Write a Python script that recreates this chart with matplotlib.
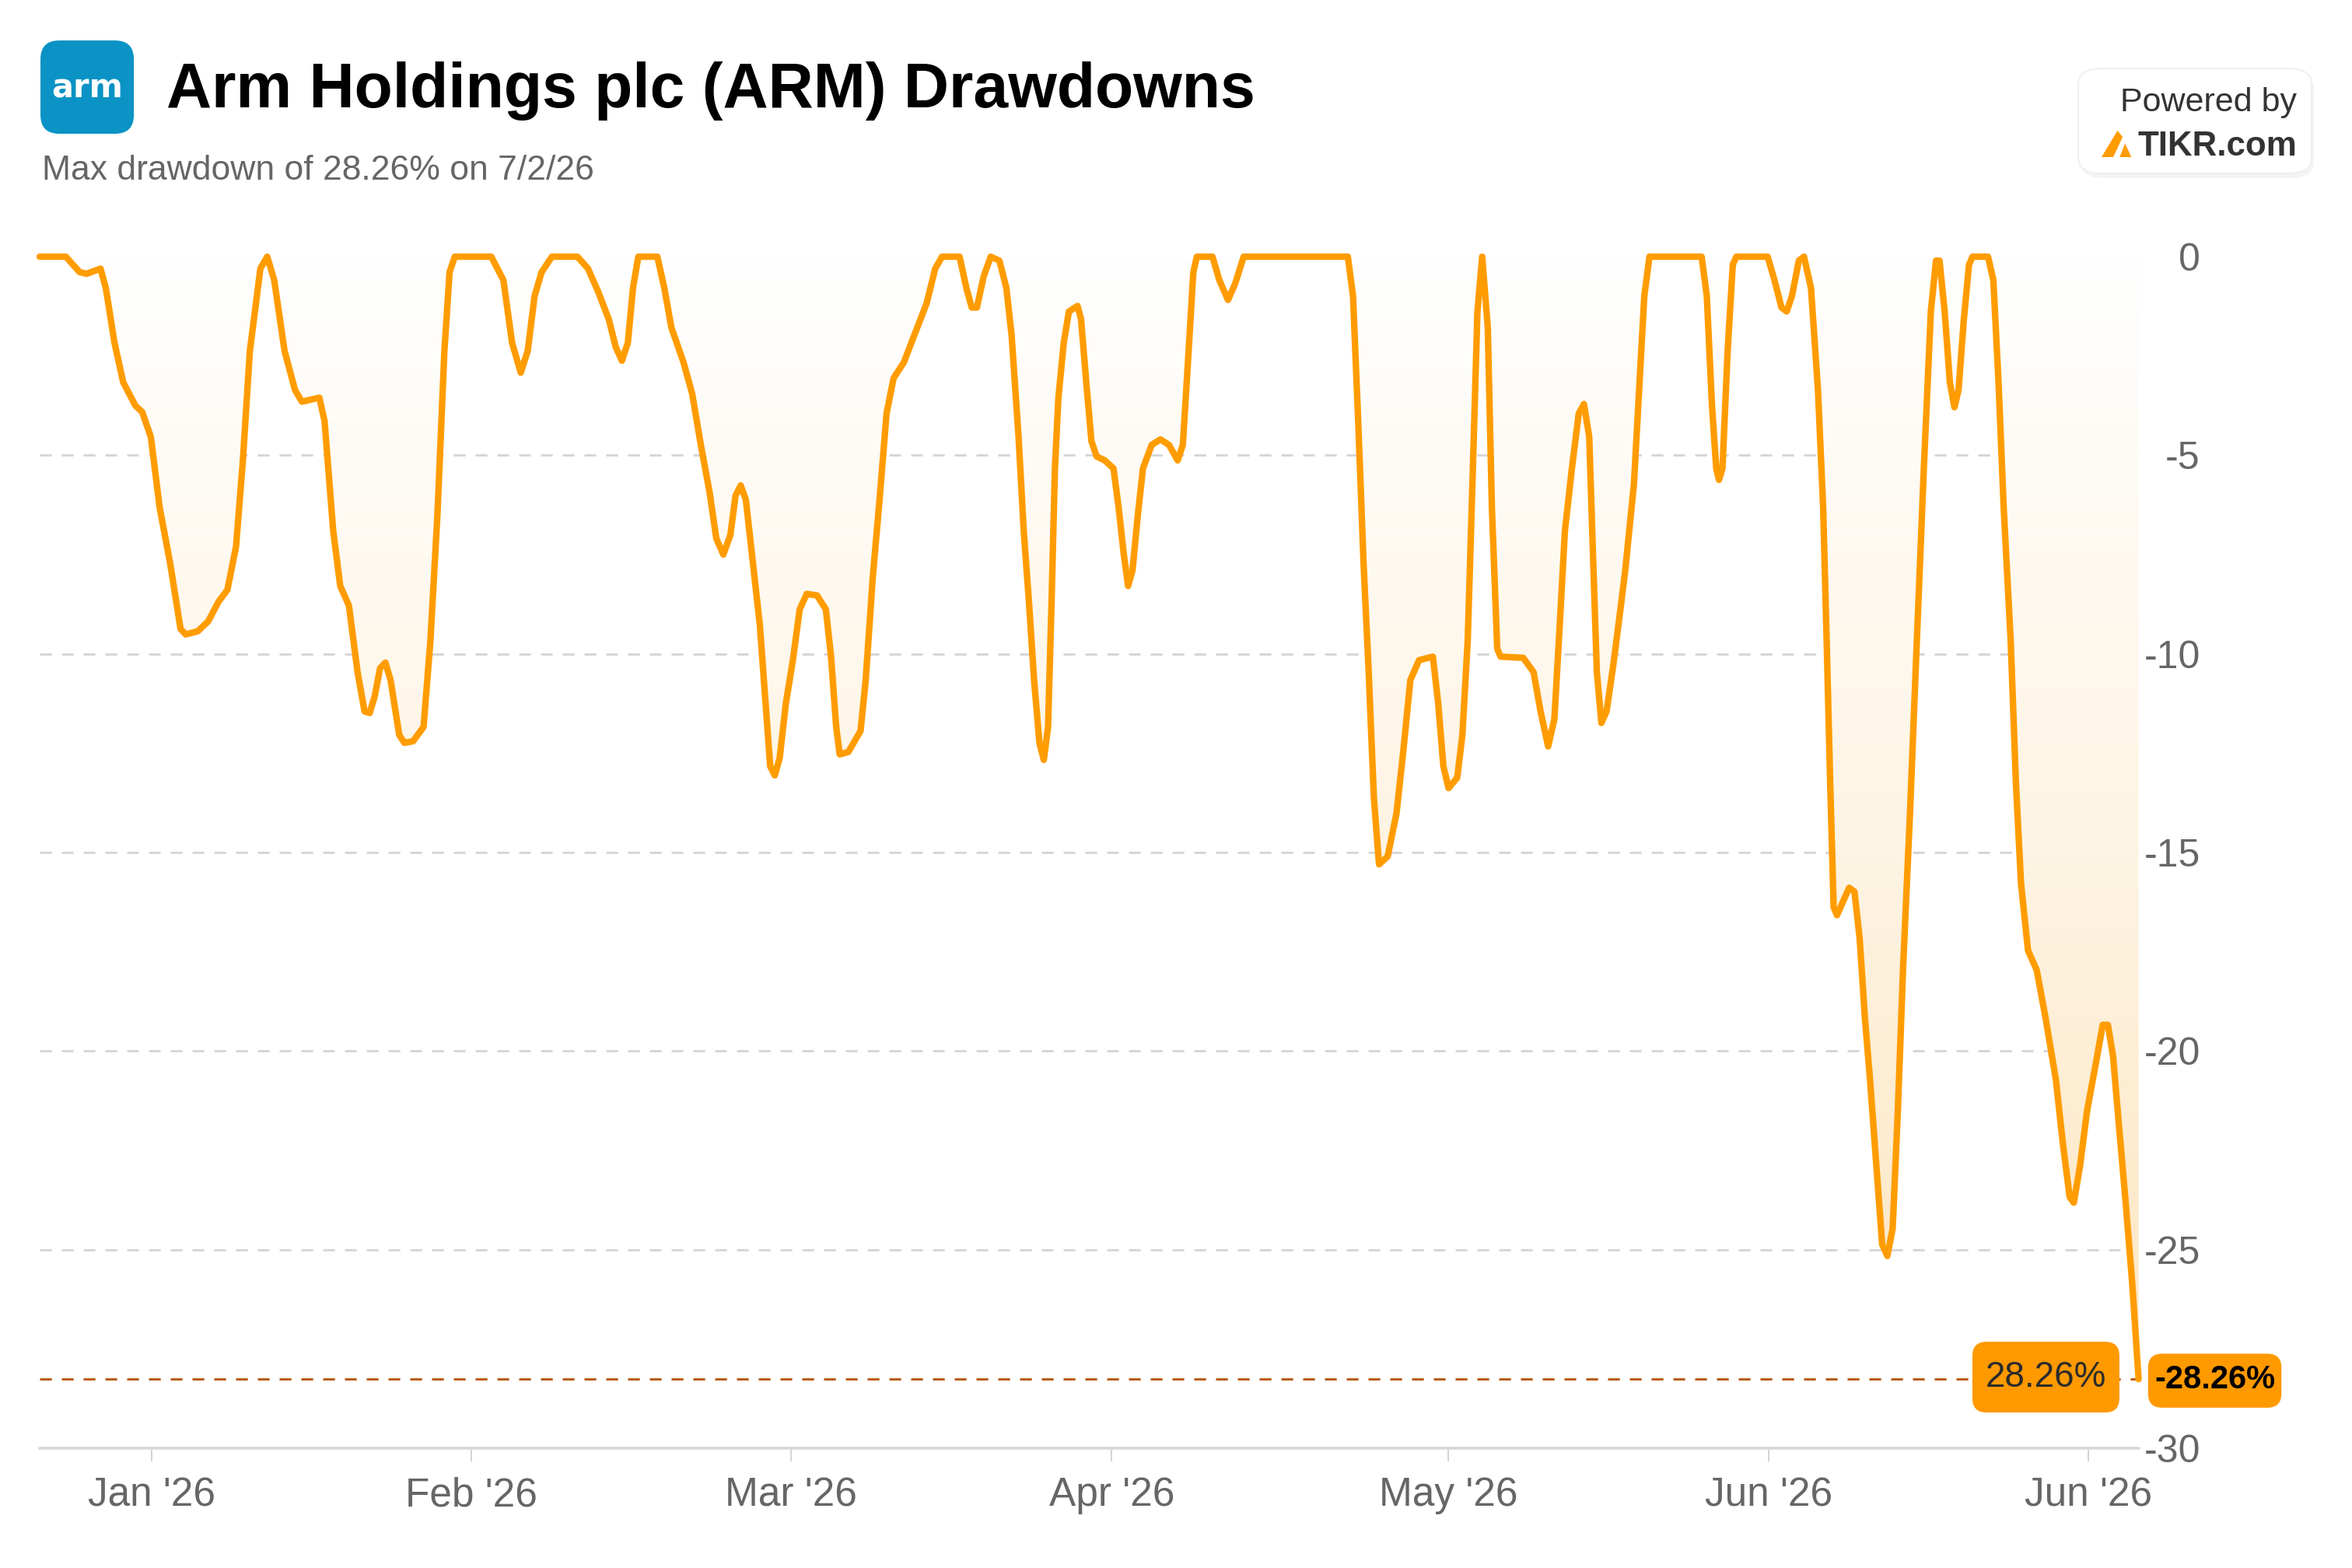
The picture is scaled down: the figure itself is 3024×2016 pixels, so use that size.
import matplotlib
matplotlib.use("Agg")
import matplotlib.pyplot as plt
import numpy as np
from matplotlib.colors import LinearSegmentedColormap
from matplotlib.patches import FancyBboxPatch, Polygon
import matplotlib.transforms as mtransforms

plt.rcParams['font.family'] = ['Liberation Sans', 'DejaVu Sans']

# trading-day position (0 = first day shown) and drawdown in %
days = [
    0.0, 1.72, 2.63, 3.09, 4.00, 4.35, 4.92, 5.49, 6.29, 6.74, 7.31, 7.89, 8.57, 9.26, 9.60,
    10.40, 11.08, 11.77, 12.34, 12.91, 13.36, 13.82, 14.51, 14.96, 15.42, 16.10, 16.79, 17.24,
    18.39, 18.73, 19.30, 19.76, 20.33, 20.90, 21.36, 21.70, 22.04, 22.38, 22.73, 23.07, 23.64,
    23.98, 24.55, 25.24, 25.69, 26.15, 26.61, 26.95, 27.29, 29.69, 30.49, 31.06, 31.63, 32.09,
    32.54, 33.00, 33.68, 35.36, 36.05, 36.73, 37.42, 37.87, 38.28, 38.67, 39.01, 39.36, 40.61,
    41.07, 41.53, 42.33, 42.90, 43.47, 44.04, 44.49, 44.95, 45.41, 45.75, 46.09, 46.43, 46.89,
    47.35, 47.69, 48.03, 48.33, 48.65, 49.06, 49.52, 49.97, 50.43, 51.11, 51.69, 52.03, 52.37,
    52.60, 53.17, 53.97, 54.31, 54.77, 55.22, 55.68, 56.14, 56.82, 57.51, 58.31, 58.88, 59.33,
    60.48, 60.93, 61.28, 61.62, 62.07, 62.53, 63.10, 63.56, 63.90, 64.36, 64.70, 65.04, 65.38,
    65.73, 66.02, 66.30, 66.53, 66.75, 66.98, 67.33, 67.67, 68.24, 68.47, 68.81, 69.15, 69.49,
    70.03, 70.60, 70.94, 71.28, 71.56, 71.85, 72.20, 72.54, 73.11, 73.68, 74.25, 74.82, 75.16,
    75.51, 75.85, 76.08, 77.11, 77.56, 78.13, 78.59, 79.16, 86.01, 86.35, 86.69, 87.04, 87.38,
    87.72, 88.06, 88.63, 89.21, 89.66, 90.12, 90.69, 91.60, 91.95, 92.29, 92.63, 93.20, 93.54,
    93.89, 94.23, 94.53, 94.84, 95.21, 95.48, 95.83, 96.05, 97.54, 98.22, 98.68, 99.18, 99.59,
    99.94, 100.28, 100.74, 101.19, 101.53, 101.88, 102.11, 102.38, 102.68, 103.02, 103.47,
    103.93, 104.25, 104.82, 105.16, 105.50, 105.84, 109.27, 109.61, 109.95, 110.23, 110.41,
    110.64, 110.98, 111.32, 111.55, 113.61, 114.06, 114.52, 114.86, 115.21, 115.66, 116.00,
    116.46, 116.92, 117.26, 117.49, 117.72, 117.95, 118.17, 118.63, 118.97, 119.32, 119.66,
    120.00, 120.34, 120.80, 121.14, 121.48, 121.83, 122.17, 122.51, 122.97, 123.42, 123.88,
    124.34, 124.68, 124.91, 125.25, 125.59, 125.89, 126.16, 126.51, 126.85, 127.08, 128.10,
    128.45, 128.79, 129.13, 129.59, 129.93, 130.27, 130.73, 131.30, 131.87, 132.56, 133.01,
    133.47, 133.74, 134.15, 134.61, 135.18, 135.64, 135.98, 136.32, 136.67, 137.12, 137.58,
    138.00,
]
drawdown = [
    0, 0, -0.39, -0.43, -0.30, -0.79, -2.17, -3.16, -3.75, -3.91, -4.54, -6.32, -7.70, -9.37, -9.51,
    -9.43, -9.18, -8.68, -8.39, -7.30, -5.13, -2.37, -0.30, 0, -0.59, -2.37, -3.36, -3.65,
    -3.55, -4.14, -6.91, -8.29, -8.78, -10.46, -11.45, -11.49, -11.05, -10.36, -10.22, -10.66, -12.04,
    -12.24, -12.20, -11.84, -9.67, -6.51, -2.37, -0.39, 0, 0, -0.59, -2.17, -2.92, -2.37,
    -0.99, -0.39, 0, 0, -0.30, -0.89, -1.58, -2.27, -2.62, -2.17, -0.79, 0, 0,
    -0.79, -1.78, -2.66, -3.45, -4.74, -5.92, -7.10, -7.50, -7.01, -6.02, -5.76, -6.12, -7.70,
    -9.28, -11.05, -12.83, -13.06, -12.63, -11.25, -10.16, -8.88, -8.49, -8.53, -8.88, -10.07, -11.84,
    -12.53, -12.47, -11.94, -10.66, -8.09, -6.12, -3.95, -3.06, -2.66, -1.97, -1.18, -0.30, 0,
    0, -0.79, -1.28, -1.28, -0.49, 0, -0.10, -0.79, -1.97, -4.54, -6.91, -8.68, -10.66,
    -12.24, -12.67, -11.84, -8.68, -5.33, -3.55, -2.17, -1.38, -1.24, -1.58, -3.16, -4.64, -5.03,
    -5.13, -5.33, -6.32, -7.50, -8.29, -7.90, -6.51, -5.33, -4.74, -4.60, -4.74, -5.13, -4.74,
    -2.57, -0.39, 0, 0, -0.59, -1.09, -0.69, 0, 0, -0.99, -4.14, -7.70, -10.46,
    -13.62, -15.30, -15.10, -14.01, -12.43, -10.66, -10.16, -10.07, -11.25, -12.83, -13.38, -13.12, -12.04,
    -9.67, -5.33, -1.38, 0, -1.78, -6.32, -9.87, -10.07, -10.10, -10.46, -11.45, -12.33, -11.64,
    -9.28, -6.91, -5.33, -3.95, -3.71, -4.54, -7.30, -10.46, -11.74, -11.45, -10.26,
    -8.88, -7.89, -5.72, -3.36, -0.99, 0, 0, -0.99, -3.75, -5.33, -5.62,
    -5.33, -2.37, -0.20, 0, 0, -0.59, -1.28, -1.38, -0.99, -0.10, 0,
    -0.79, -3.36, -6.32, -9.67, -13.22, -16.38, -16.58, -16.18, -15.89, -15.99, -17.17,
    -19.14, -20.72, -23.09, -24.87, -25.16, -24.47, -21.51, -17.96, -14.01, -9.67, -5.33,
    -1.38, -0.10, -0.10, -1.38, -3.16, -3.79, -3.36, -1.58, -0.20, 0, 0,
    -0.59, -3.16, -6.32, -9.67, -13.22, -15.79, -17.47, -17.96, -19.14, -20.72, -22.30,
    -23.68, -23.82, -22.89, -21.51, -20.33, -19.34, -19.34, -20.13, -21.71, -23.68, -25.85,
    -28.26,
]

tick_days = [7.34, 28.39, 49.41, 70.49, 92.61, 113.66, 134.68]
tick_labels = ["Jan '26", "Feb '26", "Mar '26", "Apr '26", "May '26", "Jun '26", "Jun '26"]
y_ticks = [0, -5, -10, -15, -20, -25, -30]
max_dd = -28.26

ORANGE = '#FF9C00'
GREY_TXT = '#666666'

fig = plt.figure(figsize=(15.12, 10.08), dpi=200)
ax = fig.add_axes([0.01687, 0.0764, 0.8924, 0.7599])

x = np.array(days)
y = np.array(drawdown)

ax.set_xlim(0, 138)
ax.set_ylim(-30, 0)

# gradient fill between curve and zero
fill = ax.fill_between(x, y, 0, color='none', linewidth=0)
cmap = LinearSegmentedColormap.from_list('dd', ['#FFFFFF', '#FEF4E3', '#FDE4BC'])
grad = np.linspace(0, 1, 256).reshape(-1, 1)
im = ax.imshow(grad, extent=[0, 138, -30, 0], aspect='auto', cmap=cmap, origin='upper', zorder=1)
im.set_clip_path(fill.get_paths()[0], transform=ax.transData)

# grid
for t in y_ticks[:-1]:
    ax.axhline(t, color='#D6D6D6', lw=1.05, dashes=(5.2, 4.4), zorder=0.5)

ax.axhline(max_dd, color='#B85A10', lw=1.05, dashes=(5.2, 4.4), zorder=2)

ax.plot(x, y, color=ORANGE, lw=3.0, zorder=3, clip_on=False,
        solid_joinstyle='round', solid_capstyle='round')

for s in ['top', 'left', 'right']:
    ax.spines[s].set_visible(False)
ax.spines['bottom'].set_color('#D8D8D8')
ax.spines['bottom'].set_linewidth(1.3)

ax.set_xticks(tick_days)
ax.set_xticklabels(tick_labels)
ax.tick_params(axis='x', length=6, width=0.6, color='#CCCCCC', pad=7,
               labelsize=18.5, labelcolor=GREY_TXT)

ax.yaxis.tick_right()
ax.set_yticks(y_ticks)
ax.set_yticklabels([str(t) for t in y_ticks])
ax.tick_params(axis='y', length=0, pad=28.5, labelsize=18, labelcolor=GREY_TXT)
for lab in ax.get_yticklabels():
    lab.set_horizontalalignment('right')

# value labels: x in figure fraction, y in data units
trans = mtransforms.blended_transform_factory(fig.transFigure, ax.transData)
aspect = (18 / 51.07) / (18 / 3024)
left_box = FancyBboxPatch((0.8386, max_dd - 0.84), 0.0625, 1.78,
                          boxstyle='round,pad=0,rounding_size=0.006', mutation_aspect=aspect,
                          transform=trans, fc='#FF9900', ec='none', zorder=5, clip_on=False)
right_box = FancyBboxPatch((0.9133, max_dd - 0.72), 0.0567, 1.36,
                           boxstyle='round,pad=0,rounding_size=0.006', mutation_aspect=aspect,
                           transform=trans, fc='#FF9900', ec='none', zorder=5, clip_on=False)
ax.add_patch(left_box)
ax.add_patch(right_box)
ax.text(0.8698, max_dd + 0.05, f"{abs(max_dd):.2f}%", transform=trans, ha='center', va='center',
        fontsize=16.5, color='#2B2B2B', zorder=6, clip_on=False)
ax.text(0.9417, max_dd - 0.02, f"{max_dd:.2f}%", transform=trans, ha='center', va='center',
        fontsize=15, fontweight='bold', color='black', zorder=6, clip_on=False)

# header
logo = FancyBboxPatch((0.0172 + 0.004, 0.9147 + 0.006), 0.0397 - 0.008, 0.0595 - 0.012,
                      boxstyle='round,pad=0.004,rounding_size=0.008', transform=fig.transFigure,
                      fc='#0A93C4', ec='none', mutation_aspect=1.5)
fig.patches.append(logo)
fig.text(0.0371, 0.9435, 'arm', ha='center', va='center', color='white', fontsize=15,
         fontweight='bold', family=['DejaVu Sans'])

fig.text(0.0708, 0.9315, 'Arm Holdings plc (ARM) Drawdowns', fontsize=29,
         fontweight='bold', color='black', va='baseline')
fig.text(0.0178, 0.8854, 'Max drawdown of 28.26% on 7/2/26', fontsize=16,
         color=GREY_TXT, va='baseline')

# powered by box
shadow = FancyBboxPatch((0.8836 + 0.001, 0.8894 - 0.003), 0.0992, 0.0669,
                        boxstyle='round,pad=0,rounding_size=0.01', transform=fig.transFigure,
                        fc='#EEEEEE', ec='none', alpha=0.6)
box = FancyBboxPatch((0.8836, 0.8894), 0.0992, 0.0669,
                     boxstyle='round,pad=0,rounding_size=0.01', transform=fig.transFigure,
                     fc='white', ec='#F0F0F0', lw=0.8)
fig.patches.extend([shadow, box])
fig.text(0.9766, 0.929, 'Powered by', ha='right', va='baseline', fontsize=15.5, color='#333333')
fig.text(0.9766, 0.9008, 'TIKR.com', ha='right', va='baseline', fontsize=15.8,
         fontweight='bold', color='#333333')
tikr_left = Polygon([(0.8935, 0.8998), (0.9003, 0.9167), (0.9025, 0.9127), (0.8985, 0.8998)],
                    closed=True, transform=fig.transFigure, fc='#FF9C00', ec='none')
tikr_right = Polygon([(0.9012, 0.8998), (0.9035, 0.9085), (0.9062, 0.8998)],
                     closed=True, transform=fig.transFigure, fc='#FF9C00', ec='none')
fig.patches.extend([tikr_left, tikr_right])

fig.savefig('out.png', dpi=200, facecolor='white')
